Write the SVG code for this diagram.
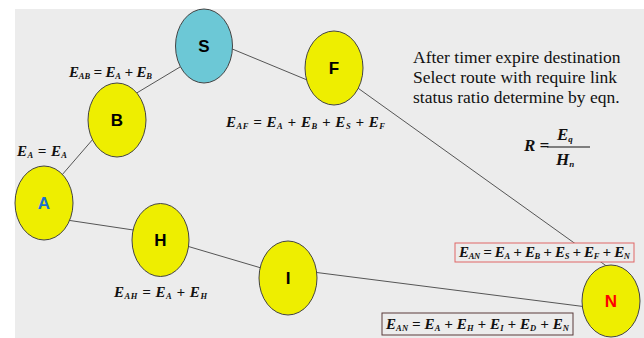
<svg xmlns="http://www.w3.org/2000/svg" width="644" height="338" viewBox="0 0 644 338">
<style>
.bg{fill:#ffffff}
.panel{fill:#ececec}
.edge{stroke:#555;stroke-width:1;fill:none}
.node{fill:#eeee00;stroke:#444;stroke-width:1}
.src{fill:#6cc8d6;stroke:#444;stroke-width:1}
.lbl{font-family:"Liberation Sans",Arial,sans-serif;font-weight:bold;font-size:17px;text-anchor:middle;fill:#000}
.eq{font-family:"Liberation Serif","Times New Roman",serif;font-weight:bold;font-style:italic;font-size:15px;fill:#111}
.sub{font-size:8.5px}
.note{font-family:"Liberation Serif","Times New Roman",serif;font-size:17.5px;fill:#111}
</style>
<rect class="bg" x="0" y="0" width="644" height="338"/>
<rect class="panel" x="15" y="9" width="629" height="329"/>
<g id="connectors">
<line class="edge" x1="55" y1="183" x2="100" y2="131"/>
<line class="edge" x1="130" y1="97" x2="190" y2="61"/>
<line class="edge" x1="225" y1="46" x2="312" y2="82"/>
<line class="edge" x1="355" y1="86" x2="612" y2="270"/>
<line class="edge" x1="60" y1="219" x2="140" y2="231"/>
<line class="edge" x1="180" y1="244" x2="268" y2="270"/>
<line class="edge" x1="305" y1="271" x2="595" y2="308"/>
</g>
<g id="node-S"><ellipse class="src" cx="204" cy="46" rx="28.5" ry="37"/><text class="lbl" x="204" y="52">S</text></g>
<g id="node-B"><ellipse class="node" cx="117" cy="120" rx="29" ry="37"/><text class="lbl" x="117" y="126">B</text></g>
<g id="node-A"><ellipse class="node" cx="44" cy="203" rx="29" ry="37"/><text class="lbl" x="44" y="209" style="fill:#1a6fd0">A</text></g>
<g id="node-F"><ellipse class="node" cx="334" cy="68" rx="29" ry="37"/><text class="lbl" x="334" y="74">F</text></g>
<g id="node-H"><ellipse class="node" cx="160.5" cy="240" rx="28.5" ry="36.5"/><text class="lbl" x="160.5" y="246">H</text></g>
<g id="node-I"><ellipse class="node" cx="288" cy="278" rx="29" ry="37"/><text class="lbl" x="288" y="284">I</text></g>
<g id="node-N"><ellipse class="node" cx="611" cy="301" rx="29" ry="36"/><text class="lbl" x="611" y="307" style="fill:#ff0000">N</text></g>
<g id="labels">
<text class="eq" x="69" y="77" textLength="83" lengthAdjust="spacing">E<tspan class="sub" dy="2">AB</tspan><tspan dy="-2"> = E</tspan><tspan class="sub" dy="2">A</tspan><tspan dy="-2"> + E</tspan><tspan class="sub" dy="2">B</tspan></text>
<text class="eq" x="17" y="156" textLength="50" lengthAdjust="spacing">E<tspan class="sub" dy="2">A</tspan><tspan dy="-2"> = E</tspan><tspan class="sub" dy="2">A</tspan></text>
<text class="eq" x="226" y="127" textLength="159" lengthAdjust="spacing">E<tspan class="sub" dy="2">AF</tspan><tspan dy="-2"> = E</tspan><tspan class="sub" dy="2">A</tspan><tspan dy="-2"> + E</tspan><tspan class="sub" dy="2">B</tspan><tspan dy="-2"> + E</tspan><tspan class="sub" dy="2">S</tspan><tspan dy="-2"> + E</tspan><tspan class="sub" dy="2">F</tspan></text>
<text class="eq" x="114" y="297" textLength="93" lengthAdjust="spacing">E<tspan class="sub" dy="2">AH</tspan><tspan dy="-2"> = E</tspan><tspan class="sub" dy="2">A</tspan><tspan dy="-2"> + E</tspan><tspan class="sub" dy="2">H</tspan></text>
<text class="note" x="413" y="63">After timer expire destination</text>
<text class="note" x="413" y="83">Select route with require link</text>
<text class="note" x="413" y="103">status ratio determine by eqn.</text>
<text class="eq" x="524" y="151" style="font-size:17px">R =</text>
<text class="eq" x="557" y="140" style="font-size:17px">E<tspan class="sub" dy="2" style="font-size:9px">q</tspan></text>
<line x1="547" y1="147" x2="590" y2="147" stroke="#111" stroke-width="1"/>
<text class="eq" x="556" y="165" style="font-size:17px">H<tspan class="sub" dy="2" style="font-size:9px">n</tspan></text>
<rect x="455" y="243" width="179" height="19" fill="#ececec" stroke="#e06666" stroke-width="1"/>
<text class="eq" x="459" y="257" textLength="171" lengthAdjust="spacing">E<tspan class="sub" dy="2">AN</tspan><tspan dy="-2"> = E</tspan><tspan class="sub" dy="2">A</tspan><tspan dy="-2"> + E</tspan><tspan class="sub" dy="2">B</tspan><tspan dy="-2"> + E</tspan><tspan class="sub" dy="2">S</tspan><tspan dy="-2"> + E</tspan><tspan class="sub" dy="2">F</tspan><tspan dy="-2"> + E</tspan><tspan class="sub" dy="2">N</tspan></text>
<rect x="382" y="313" width="191" height="22" fill="#ececec" stroke="#5a3a3a" stroke-width="1"/>
<text class="eq" x="386" y="329" textLength="183" lengthAdjust="spacing">E<tspan class="sub" dy="2">AN</tspan><tspan dy="-2"> = E</tspan><tspan class="sub" dy="2">A</tspan><tspan dy="-2"> + E</tspan><tspan class="sub" dy="2">H</tspan><tspan dy="-2"> + E</tspan><tspan class="sub" dy="2">I</tspan><tspan dy="-2"> + E</tspan><tspan class="sub" dy="2">D</tspan><tspan dy="-2"> + E</tspan><tspan class="sub" dy="2">N</tspan></text>
</g>
</svg>
